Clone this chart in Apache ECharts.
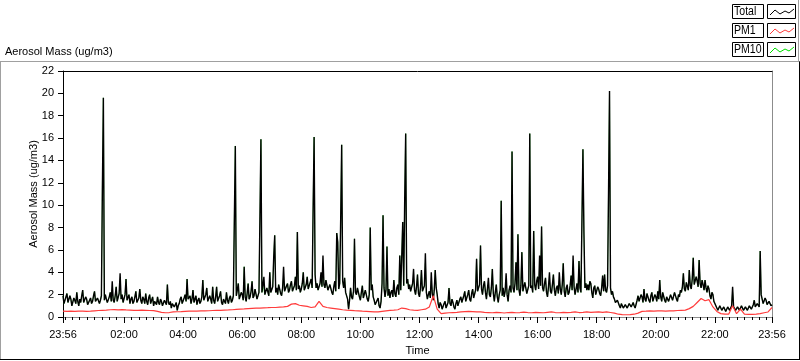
<!DOCTYPE html>
<html><head><meta charset="utf-8">
<script src="https://cdn.jsdelivr.net/npm/echarts@6/dist/echarts.min.js"></script>
<style>html,body{margin:0;padding:0;background:#fff}#c{width:800px;height:361px}</style>
</head><body><div id="c"></div>
<script>
// ---- data (minutes from 00:00; first sample at 23:56 of previous day) ----
const startMinute = -4;
const stepTotal = 2;   // minutes between Total / PM10 samples
const stepPM1 = 8;     // minutes between PM1 samples
const seriesNames = ['Total', 'PM1', 'PM10'];
const xLabelMinutes = [-4,120,240,360,480,600,720,840,960,1080,1200,1320,1436];

const totalMass = [
1.9,1.2,1.3,1.8,2.1,1.3,1.4,1.9,1.6,1.0,1.1,1.7,1.5,1.2,2.2,1.4,1.0,1.6,1.3,1.9,
2.4,1.3,1.2,1.8,1.6,1.1,1.0,1.5,1.7,1.2,1.4,1.9,2.3,1.4,1.3,1.7,1.8,1.2,1.5,1.9,
11.5,19.6,1.5,2.0,1.6,1.3,1.2,1.8,2.2,1.4,3.2,1.5,1.3,1.9,2.7,1.4,1.5,2.1,3.9,1.6,
2.0,1.3,1.4,2.0,3.4,1.5,1.6,2.0,1.2,1.6,1.8,1.2,1.4,1.8,2.3,1.3,1.3,1.7,2.5,1.5,
1.2,1.8,1.6,1.2,2.1,1.4,1.1,1.7,2.0,1.2,1.3,1.8,1.0,1.4,1.5,1.1,1.8,1.3,1.1,1.6,
1.4,1.0,1.0,1.5,1.6,1.1,2.9,1.3,1.1,1.4,0.8,1.2,1.3,0.9,0.9,1.3,0.6,1.0,1.2,1.6,
1.8,1.2,1.3,1.7,2.0,1.4,3.4,1.6,1.5,1.9,1.2,1.6,2.4,1.3,1.4,1.9,1.1,1.5,1.7,1.2,
1.4,1.8,3.3,1.5,1.6,2.0,2.6,1.4,1.3,1.9,1.6,1.2,2.7,1.5,1.2,1.8,2.7,1.4,1.4,1.9,
2.3,1.3,1.1,1.6,1.5,1.2,2.2,1.5,1.2,1.7,1.9,1.3,1.5,1.9,8.7,15.3,1.9,2.4,3.0,1.6,
1.5,2.2,2.0,1.5,4.5,1.8,1.4,2.1,3.0,1.6,1.8,2.3,3.2,1.7,1.9,2.5,2.4,1.6,1.7,2.2,
9.0,15.9,2.2,2.8,3.6,2.0,2.0,2.6,2.5,1.9,4.0,2.2,2.1,2.7,5.4,7.3,2.2,2.6,2.0,2.9,
2.8,2.1,1.9,2.6,4.5,2.3,2.3,2.8,3.0,2.2,2.4,2.9,3.2,2.3,2.2,2.8,3.6,2.4,7.6,2.5,
2.8,2.2,2.5,3.0,4.0,2.4,2.3,2.9,3.6,2.5,2.6,3.1,3.4,2.6,9.7,16.1,3.8,2.6,3.0,2.4,
2.4,3.0,4.0,2.7,5.5,2.9,2.6,3.3,3.2,2.4,2.3,2.9,2.9,2.2,2.0,2.7,3.2,2.3,7.5,6.7,
2.5,3.0,8.8,15.4,3.2,2.6,3.5,2.2,2.2,1.6,0.7,1.5,2.6,1.8,1.6,2.3,7.0,2.2,2.0,2.6,
2.7,1.8,1.5,2.2,2.8,1.7,1.8,2.4,2.4,1.6,1.4,2.0,8.0,2.4,2.9,1.8,1.5,1.1,1.0,1.5,
1.7,1.0,0.8,1.4,3.0,9.1,2.6,1.8,2.4,6.3,1.9,2.5,1.7,2.2,2.4,1.8,3.3,2.1,1.8,2.6,
2.9,2.0,5.5,2.4,2.5,8.5,2.8,10.5,16.4,3.0,3.4,2.5,2.9,2.3,2.3,3.0,4.3,2.4,2.0,2.7,
3.8,2.1,1.8,2.6,4.2,2.3,2.2,2.8,5.7,2.2,1.6,2.0,2.3,1.7,4.0,2.1,1.5,2.4,4.2,2.6,
2.0,1.2,0.8,1.3,1.1,0.7,0.6,1.2,1.4,0.8,0.9,1.3,2.6,1.2,1.0,1.6,1.3,0.9,0.7,1.2,
1.5,1.0,1.0,1.6,1.8,1.3,1.2,1.9,2.3,1.4,1.5,2.0,2.4,1.6,1.4,2.1,2.5,1.7,1.8,2.4,
5.2,2.3,2.2,2.9,6.4,2.5,2.0,2.8,3.2,2.2,1.6,2.5,3.5,2.0,1.8,2.6,4.3,2.1,1.4,2.2,
2.9,1.8,1.3,2.0,2.4,10.4,1.9,2.6,1.8,2.3,3.9,2.0,1.4,2.4,2.8,2.2,14.8,2.6,2.2,3.0,
4.9,2.4,7.4,2.5,1.9,2.8,5.8,2.3,2.2,3.1,3.0,2.1,2.0,2.8,16.4,2.6,2.8,2.2,7.7,2.9,
2.4,3.2,3.6,2.5,5.5,2.8,8.1,2.6,2.3,3.0,3.5,2.2,1.8,2.7,4.0,2.3,2.1,2.9,3.8,2.4,
1.9,2.6,2.8,2.1,4.0,2.5,2.0,2.9,4.8,2.3,1.8,2.6,2.9,2.0,2.2,2.8,3.7,2.4,5.5,2.7,
2.0,2.5,3.0,2.2,5.0,2.6,2.2,8.7,15.0,7.6,2.6,3.0,2.4,2.9,2.4,3.2,3.0,2.2,1.7,2.6,
2.8,2.0,2.0,2.7,2.5,2.1,1.9,2.6,3.7,2.3,3.8,2.4,2.2,2.8,11.2,20.2,2.6,2.0,2.3,1.8,
1.6,1.3,1.2,1.5,1.4,1.0,0.8,1.2,1.1,0.8,0.7,1.1,1.0,0.8,0.7,1.2,1.1,0.9,0.8,1.3,
1.0,0.8,0.9,1.5,1.9,1.4,1.3,2.0,1.8,1.3,2.5,1.6,1.4,2.1,2.0,1.5,1.3,1.9,2.2,1.4,
1.5,2.0,1.8,1.4,2.3,1.6,3.3,1.8,1.4,2.2,2.1,1.5,1.3,1.8,1.9,1.4,1.3,2.0,2.0,1.5,
1.5,2.2,2.1,1.6,1.4,2.0,1.8,2.4,2.2,2.7,3.9,2.5,2.3,3.1,3.0,2.4,4.2,2.8,2.5,3.4,
5.3,2.9,2.8,3.6,3.2,2.7,5.1,3.0,2.6,3.3,2.9,2.4,3.3,2.6,2.2,2.8,2.5,1.9,1.6,2.2,
2.0,1.4,1.2,1.0,0.9,0.6,0.6,1.0,0.9,0.6,0.5,0.9,0.8,0.5,0.6,0.9,0.9,0.6,0.5,1.0,
2.7,0.9,0.8,0.6,0.5,0.9,0.9,0.6,0.6,1.0,0.8,0.6,0.5,0.9,0.9,0.6,0.7,1.0,1.0,0.7,
0.8,1.1,1.5,0.9,0.9,1.2,1.2,0.9,5.9,2.0,1.6,1.2,1.2,1.7,1.5,1.1,1.0,1.4,1.3,1.0,
1.1
];

const pm10Mass = [
1.9,1.2,1.3,1.8,2.1,1.3,1.4,1.9,1.6,1.0,1.1,1.7,1.5,1.2,2.2,1.4,1.0,1.6,1.3,1.9,
2.4,1.3,1.2,1.8,1.6,1.1,1.0,1.5,1.7,1.2,1.4,1.9,2.3,1.4,1.3,1.7,1.8,1.2,1.5,1.9,
11.5,19.6,1.5,2.0,1.6,1.3,1.2,1.8,2.2,1.4,2.4,1.5,1.3,1.9,2.7,1.4,1.5,2.1,3.0,1.6,
2.0,1.3,1.4,2.0,3.4,1.5,1.6,2.0,1.2,1.6,1.8,1.2,1.4,1.8,2.3,1.3,1.3,1.7,2.5,1.5,
1.2,1.8,1.6,1.2,2.1,1.4,1.1,1.7,2.0,1.2,1.3,1.8,1.0,1.4,1.5,1.1,1.8,1.3,1.1,1.6,
1.4,1.0,1.0,1.5,1.6,1.1,2.9,1.3,1.1,1.4,0.8,1.2,1.3,0.9,0.9,1.3,0.6,1.0,1.2,1.6,
1.8,1.2,1.3,1.7,2.0,1.4,3.4,1.6,1.5,1.9,1.2,1.6,2.4,1.3,1.4,1.9,1.1,1.5,1.7,1.2,
1.4,1.8,3.3,1.5,1.6,2.0,2.6,1.4,1.3,1.9,1.6,1.2,2.7,1.5,1.2,1.8,2.7,1.4,1.4,1.9,
2.3,1.3,1.1,1.6,1.5,1.2,2.2,1.5,1.2,1.7,1.9,1.3,1.5,1.9,8.7,15.3,1.9,2.4,3.0,1.6,
1.5,2.2,2.0,1.5,4.5,1.8,1.4,2.1,3.0,1.6,1.8,2.3,3.2,1.7,1.9,2.5,2.4,1.6,1.7,2.2,
9.0,15.9,2.2,2.8,2.8,2.0,2.0,2.6,2.5,1.9,4.0,2.2,2.1,2.7,5.4,7.3,2.2,2.6,2.0,2.9,
2.8,2.1,1.9,2.6,3.6,2.3,2.3,2.8,3.0,2.2,2.4,2.9,3.2,2.3,2.2,2.8,3.6,2.4,7.6,2.5,
2.8,2.2,2.5,3.0,4.0,2.4,2.3,2.9,3.6,2.5,2.6,3.1,3.4,2.6,9.7,16.1,3.8,2.6,3.0,2.4,
2.4,3.0,3.2,2.7,4.6,2.9,2.6,3.3,3.2,2.4,2.3,2.9,2.9,2.2,2.0,2.7,3.2,2.3,7.5,6.7,
2.5,3.0,8.8,15.4,3.2,2.6,3.5,2.2,2.2,1.6,0.7,1.5,2.6,1.8,1.6,2.3,7.0,2.2,2.0,2.6,
2.7,1.8,1.5,2.2,2.8,1.7,1.8,2.4,2.4,1.6,1.4,2.0,8.0,2.4,2.9,1.8,1.5,1.1,1.0,1.5,
1.7,1.0,0.8,1.4,3.0,9.1,2.6,1.8,2.4,6.3,1.9,2.5,1.7,2.2,2.4,1.8,3.3,2.1,1.8,2.6,
2.9,2.0,5.5,2.4,2.5,8.5,2.8,10.5,16.4,3.0,3.4,2.5,2.9,2.3,2.3,3.0,3.4,2.4,2.0,2.7,
3.8,2.1,1.8,2.6,4.2,2.3,2.2,2.8,4.8,2.2,1.6,2.0,2.3,1.7,3.2,2.1,1.5,2.4,4.2,2.6,
2.0,1.2,0.8,1.3,1.1,0.7,0.6,1.2,1.4,0.8,0.9,1.3,2.6,1.2,1.0,1.6,1.3,0.9,0.7,1.2,
1.5,1.0,1.0,1.6,1.8,1.3,1.2,1.9,2.3,1.4,1.5,2.0,2.4,1.6,1.4,2.1,2.5,1.7,1.8,2.4,
5.2,2.3,2.2,2.9,6.4,2.5,2.0,2.8,3.2,2.2,1.6,2.5,2.7,2.0,1.8,2.6,4.3,2.1,1.4,2.2,
2.9,1.8,1.3,2.0,2.4,10.4,1.9,2.6,1.8,2.3,3.0,2.0,1.4,2.4,2.8,2.2,14.8,2.6,2.2,3.0,
4.9,2.4,7.4,2.5,1.9,2.8,5.8,2.3,2.2,3.1,3.0,2.1,2.0,2.8,16.4,2.6,2.8,2.2,7.7,2.9,
2.4,3.2,3.6,2.5,4.5,2.8,8.1,2.6,2.3,3.0,3.5,2.2,1.8,2.7,3.2,2.3,2.1,2.9,3.8,2.4,
1.9,2.6,2.8,2.1,3.2,2.5,2.0,2.9,4.8,2.3,1.8,2.6,2.2,2.0,2.2,2.8,3.7,2.4,4.5,2.7,
2.0,2.5,3.0,2.2,5.0,2.6,2.2,8.7,15.0,7.6,2.6,3.0,2.4,2.9,2.4,3.2,3.0,2.2,1.7,2.6,
2.8,2.0,2.0,2.7,2.5,2.1,1.9,2.6,3.7,2.3,3.8,2.4,2.2,2.8,11.2,20.2,2.6,2.0,2.3,1.8,
1.6,1.3,1.2,1.5,1.4,1.0,0.8,1.2,1.1,0.8,0.7,1.1,1.0,0.8,0.7,1.2,1.1,0.9,0.8,1.3,
1.0,0.8,0.9,1.5,1.9,1.4,1.3,2.0,1.8,1.3,2.5,1.6,1.4,2.1,2.0,1.5,1.3,1.9,2.2,1.4,
1.5,2.0,1.8,1.4,2.3,1.6,3.3,1.8,1.4,2.2,2.1,1.5,1.3,1.8,1.9,1.4,1.3,2.0,2.0,1.5,
1.5,2.2,2.1,1.6,1.4,2.0,1.8,2.4,2.2,2.7,3.9,2.5,2.3,3.1,3.0,2.4,4.2,2.8,2.5,3.4,
5.3,2.9,2.8,3.6,3.2,2.7,5.1,3.0,2.6,3.3,2.9,2.4,3.3,2.6,2.2,2.8,2.5,1.9,1.6,2.2,
2.0,1.4,1.2,1.0,0.9,0.6,0.6,1.0,0.9,0.6,0.5,0.9,0.8,0.5,0.6,0.9,0.9,0.6,0.5,1.0,
2.2,0.9,0.8,0.6,0.5,0.9,0.9,0.6,0.6,1.0,0.8,0.6,0.5,0.9,0.9,0.6,0.7,1.0,1.0,0.7,
0.8,1.1,1.5,0.9,0.9,1.2,1.2,0.9,5.9,2.0,1.6,1.2,1.2,1.7,1.5,1.1,1.0,1.4,1.3,1.0,
1.1
];

const pm1Mass = [
0.52,0.5,0.53,0.5,0.52,0.53,0.5,0.52,0.55,0.58,0.6,0.62,0.65,0.66,0.64,0.66,0.63,0.62,0.6,0.6,
0.62,0.6,0.58,0.57,0.5,0.42,0.38,0.4,0.45,0.47,0.48,0.5,0.52,0.53,0.53,0.55,0.55,0.56,0.58,0.6,
0.6,0.62,0.63,0.65,0.68,0.7,0.72,0.75,0.78,0.8,0.8,0.82,0.83,0.85,0.85,0.88,0.9,0.95,1.15,1.2,
1.05,1.0,0.95,0.85,0.9,1.4,0.95,0.85,0.8,0.75,0.7,0.65,0.62,0.6,0.57,0.55,0.52,0.5,0.48,0.45,
0.45,0.5,0.55,0.6,0.62,0.65,0.8,0.75,0.65,0.62,0.6,0.65,0.7,0.9,1.9,0.7,0.3,0.35,0.38,0.4,
0.42,0.45,0.48,0.5,0.48,0.45,0.45,0.42,0.4,0.38,0.42,0.4,0.36,0.4,0.42,0.38,0.4,0.44,0.4,0.38,
0.42,0.4,0.38,0.42,0.45,0.4,0.38,0.42,0.4,0.42,0.45,0.4,0.42,0.45,0.42,0.44,0.45,0.42,0.45,0.4,
0.35,0.25,0.22,0.2,0.22,0.25,0.35,0.5,0.52,0.55,0.53,0.55,0.55,0.52,0.55,0.55,0.58,0.6,0.62,0.75,
0.95,1.3,1.65,1.45,1.55,0.9,0.5,0.3,0.25,0.25,1.0,0.3,0.7,0.25,0.23,0.23,0.25,0.3,0.38,0.45,
0.85
];

// ---- chart ----
const FONT = 'Liberation Sans, Arial, sans-serif';
const colors = { Total: '#000000', PM1: '#ff3c3c', PM10: '#00e000' };

function fmt(m) {
  const t = ((m % 1440) + 1440) % 1440;
  const h = Math.floor(t / 60), mm = t % 60;
  return String(h).padStart(2, '0') + ':' + String(mm).padStart(2, '0');
}
const minorTicks = [];
for (let m = 0; m < 1436; m += 15) minorTicks.push(m);

const toPairs = (arr, step) => arr.map((v, i) => [startMinute + i * step, v]);

const chart = echarts.init(document.getElementById('c'), null, { renderer: 'canvas' });

const legendGraphics = [];
seriesNames.forEach((name, r) => {
  const top = 4 + r * 19;
  legendGraphics.push(
    { type: 'rect', shape: { x: 732.5, y: top + 0.5, width: 31, height: 14 }, style: { fill: '#fff', stroke: '#000', lineWidth: 1 } },
    { type: 'text', x: 734, y: top + 8, scaleX: 0.88, style: { text: name, font: '12px ' + FONT, fill: '#000', textVerticalAlign: 'middle' } },
    { type: 'rect', shape: { x: 767.5, y: top + 0.5, width: 28, height: 14 }, style: { fill: '#fff', stroke: '#000', lineWidth: 1 } },
    { type: 'polyline', shape: { points: [[770, top + 11], [775, top + 6], [780, top + 10], [785, top + 7], [789, top + 9], [794, top + 5]] }, style: { stroke: colors[name], lineWidth: 1, fill: null } }
  );
});

const option = {
  animation: false,
  backgroundColor: '#fff',
  textStyle: { fontFamily: FONT },
  grid: { left: 63, top: 71, width: 709, height: 251, containLabel: false },
  xAxis: [
    {
      type: 'value', min: startMinute, max: 1436, position: 'bottom',
      axisLine: { show: true, onZero: false, lineStyle: { color: '#8c8c8c', width: 1 } },
      axisTick: { show: true, customValues: xLabelMinutes, length: 6, lineStyle: { color: '#000' } },
      axisLabel: { show: true, customValues: xLabelMinutes, formatter: fmt, color: '#000', fontSize: 11, fontFamily: FONT, margin: 12, hideOverlap: false, showMinLabel: true, showMaxLabel: true },
      splitLine: { show: false },
      name: 'Time', nameLocation: 'middle', nameGap: 28, nameMoveOverlap: false,
      nameTextStyle: { color: '#000', fontSize: 11, fontFamily: FONT }
    },
    {
      type: 'value', min: startMinute, max: 1436, position: 'bottom', gridIndex: 0,
      axisLine: { show: false },
      axisTick: { show: true, customValues: minorTicks, length: 3, lineStyle: { color: '#000' } },
      axisLabel: { show: false }, splitLine: { show: false }
    },
    {
      type: 'value', min: startMinute, max: 1436, position: 'top', gridIndex: 0,
      axisLine: { show: true, onZero: false, lineStyle: { color: '#000', width: 1 } },
      axisTick: { show: false }, axisLabel: { show: false }, splitLine: { show: false }
    }
  ],
  yAxis: [
    {
      type: 'value', min: 0, max: 22, interval: 2, position: 'left',
      axisLine: { show: true, onZero: false, lineStyle: { color: '#000', width: 1 } },
      axisTick: { show: true, length: 5, lineStyle: { color: '#000' } },
      axisLabel: { color: '#000', fontSize: 11, fontFamily: FONT, margin: 9 },
      splitLine: { show: false },
      name: 'Aerosol Mass (ug/m3)', nameLocation: 'middle', nameGap: 24, nameRotate: 90, nameMoveOverlap: false,
      nameTextStyle: { color: '#000', fontSize: 11, fontFamily: FONT }
    },
    {
      type: 'value', min: 0, max: 22, position: 'right',
      axisLine: { show: true, onZero: false, lineStyle: { color: '#8c8c8c', width: 1 } },
      axisTick: { show: false }, axisLabel: { show: false }, splitLine: { show: false }
    }
  ],
  series: [
    { name: 'PM10', type: 'line', xAxisIndex: 0, yAxisIndex: 0, data: toPairs(pm10Mass, stepTotal), showSymbol: false, z: 2,
      lineStyle: { color: colors.PM10, width: 0.5 }, itemStyle: { color: colors.PM10 } },
    { name: 'Total', type: 'line', xAxisIndex: 0, yAxisIndex: 0, data: toPairs(totalMass, stepTotal), showSymbol: false, z: 3,
      lineStyle: { color: colors.Total, width: 1.4 }, itemStyle: { color: colors.Total } },
    { name: 'PM1', type: 'line', xAxisIndex: 0, yAxisIndex: 0, data: toPairs(pm1Mass, stepPM1), showSymbol: false, z: 4,
      lineStyle: { color: colors.PM1, width: 1.2 }, itemStyle: { color: colors.PM1 } }
  ],
  graphic: [
    { type: 'line', shape: { x1: 0, y1: 61.5, x2: 800, y2: 61.5 }, style: { stroke: '#a0a0a0', lineWidth: 1 } },
    { type: 'line', shape: { x1: 0.5, y1: 61.5, x2: 0.5, y2: 359 }, style: { stroke: '#a0a0a0', lineWidth: 1 } },
    { type: 'line', shape: { x1: 0, y1: 359.5, x2: 800, y2: 359.5 }, style: { stroke: '#000', lineWidth: 1 } },
    { type: 'line', shape: { x1: 799.5, y1: 61.5, x2: 799.5, y2: 360 }, style: { stroke: '#000', lineWidth: 1 } },
    { type: 'line', shape: { x1: 798.5, y1: 0, x2: 798.5, y2: 61.5 }, style: { stroke: '#a0a0a0', lineWidth: 1 } },
    { type: 'text', x: 5, y: 52, style: { text: 'Aerosol Mass (ug/m3)', font: '11px ' + FONT, fill: '#000', textVerticalAlign: 'middle' } },
    ...legendGraphics
  ]
};
chart.setOption(option);
</script>
</body></html>
